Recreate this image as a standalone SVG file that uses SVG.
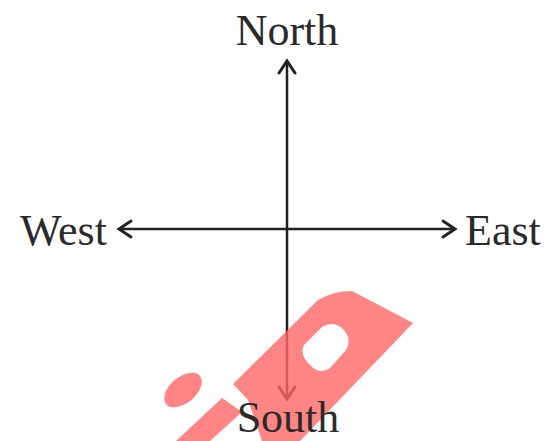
<svg xmlns="http://www.w3.org/2000/svg" width="550" height="441" viewBox="0 0 550 441">
  <defs>
    <style>
      .lbl { font-family: "Liberation Serif", "Times New Roman", serif; font-size: 44px; fill: #2a2a2a; }
      .ax { stroke: #222; stroke-width: 2.5; fill: none; }
      .head { stroke: #222; stroke-width: 3; fill: none; stroke-linecap: round; stroke-linejoin: miter; }
      .wm { fill: #ff6666; opacity: 0.8; }
    </style>
  </defs>
  <rect width="550" height="441" fill="#fff"/>
  <g id="connectors">
    <line class="ax" x1="287" y1="61" x2="287" y2="399"/>
    <line class="ax" x1="119" y1="229" x2="455" y2="229"/>
    <polyline class="head" points="279,73 287,61 295,73"/>
    <polyline class="head" points="279,387 287,399 295,387"/>
    <polyline class="head" points="131,221 119,229 131,237"/>
    <polyline class="head" points="443,221 455,229 443,237"/>
  </g>
  <g id="watermark">
    <path class="wm" fill-rule="evenodd" d="M233,384 L318,300 Q333,291 352,291 L413,323 L300,441 L262,441 L248,400 Z M304,345 L322,327 Q334,320 344,330 Q352,340 346,350 L330,368 Q320,375 311,366 Q299,355 304,345 Z"/>
    <ellipse class="wm" cx="183" cy="390" rx="22" ry="13" transform="rotate(-40 183 390)"/>
    <polygon class="wm" points="176,441 222,398 242,412 210,441"/>
  </g>
  <g id="north"><text class="lbl" x="287" y="45" text-anchor="middle">North</text></g>
  <g id="west"><text class="lbl" x="20" y="245">West</text></g>
  <g id="east"><text class="lbl" x="465" y="245">East</text></g>
  <g id="south"><text class="lbl" x="288" y="432" text-anchor="middle">South</text></g>
</svg>
